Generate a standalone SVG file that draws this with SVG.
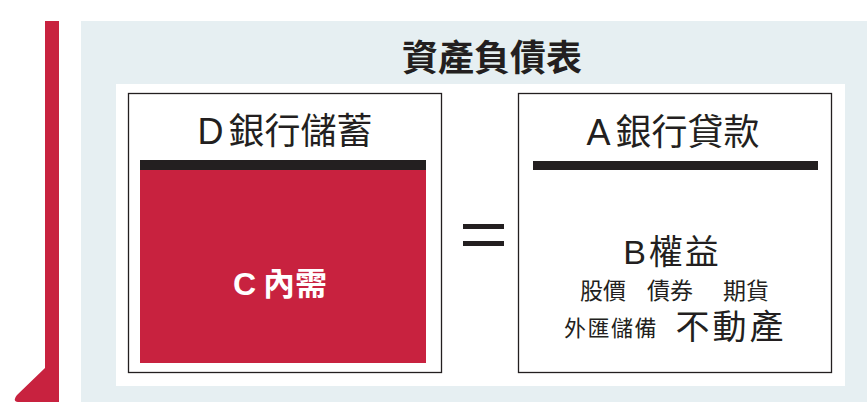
<svg xmlns="http://www.w3.org/2000/svg" width="867" height="402" viewBox="0 0 867 402">
<style>
.t{font-family:"Liberation Sans","Noto Sans CJK TC",sans-serif;fill:#231f20;text-anchor:middle}
.box{fill:#fff;stroke:#231f20;stroke-width:1.3}
.bar{fill:#231f20}
</style>
<rect width="867" height="402" fill="#fff"/>
<g id="side-bar"><path d="M45 21H59V402H18Q12 401 17 395L45 368Z" fill="#c8223f"/></g>
<g id="panel">
<rect x="81" y="21" width="786" height="381" fill="#e6eff2"/>
<rect x="116" y="84" width="729" height="302" fill="#fff"/>
<text class="t" x="492" y="71" font-size="36" font-weight="bold">資產負債表</text>
</g>
<g id="node-deposits">
<rect class="box" x="128.5" y="93.5" width="313" height="279"/>
<text class="t" x="285" y="144" font-size="36">D<tspan dx="5">銀行儲蓄</tspan></text>
<rect class="bar" x="140" y="160" width="286" height="10"/>
<rect x="140" y="170" width="286" height="193" fill="#c8223f"/>
<text class="t" x="280" y="295" font-size="32" font-weight="bold" style="fill:#fff">C<tspan dx="7">內需</tspan></text>
</g>
<g id="node-loans">
<rect class="box" x="518.5" y="93.5" width="313" height="279"/>
<text class="t" x="673" y="145" font-size="36">A<tspan dx="5">銀行貸款</tspan></text>
<rect class="bar" x="533" y="161" width="285" height="9"/>
<text class="t" x="672" y="264" font-size="34" letter-spacing="2">B<tspan dx="1">權益</tspan></text>
<text class="t" font-size="23" style="text-anchor:start"><tspan x="580" y="299">股價</tspan><tspan x="647" y="299">債券</tspan><tspan x="723" y="299">期貨</tspan></text>
<text class="t" x="611" y="336" font-size="22" letter-spacing="1.5">外匯儲備</text>
<text class="t" x="731" y="339" font-size="34" letter-spacing="3">不動產</text>
</g>
<g id="connectors">
<rect class="bar" x="463" y="224" width="41" height="5"/>
<rect class="bar" x="463" y="241" width="41" height="5"/>
</g>
</svg>
